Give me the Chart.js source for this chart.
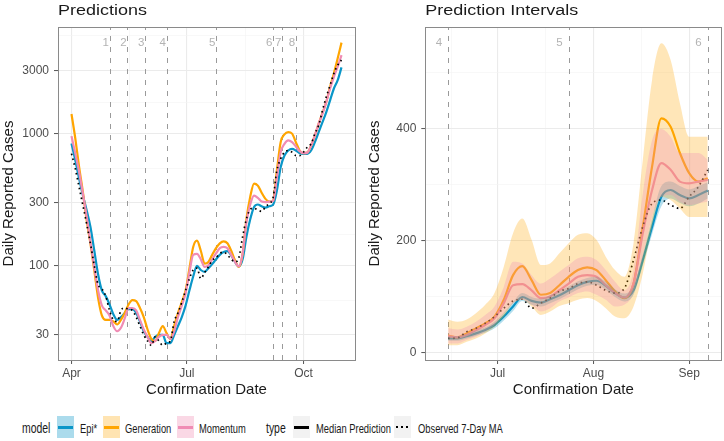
<!DOCTYPE html>
<html>
<head>
<meta charset="utf-8">
<script src="https://cdn.jsdelivr.net/npm/chart.js@4.4.1/dist/chart.umd.min.js"></script>
<style>
  html, body { margin: 0; padding: 0; background: #fff; }
  body { width: 724px; height: 441px; position: relative; overflow: hidden;
         font-family: "Liberation Sans", Arial, sans-serif; }
  canvas { position: absolute; top: 0; }
  #left  { left: 0; }
  #right { left: 362px; }
  .lt  { position: absolute; top: 428px; white-space: nowrap; color: #1a1a1a;
         transform-origin: 0 50%; transform: translateY(-50%) scaleX(0.72); }
  .lt.head { font-size: 14.5px; }
  .lt.lab  { font-size: 13px; }
  .key { position: absolute; top: 416px; width: 17px; height: 22px; }
  .key i { position: absolute; left: 1px; right: 1px; top: 10px; height: 2.5px; }
  .key i.dots { background: repeating-linear-gradient(90deg, #000 0 1.8px, transparent 1.8px 5px); height: 2px; left: 2px; }
</style>
</head>
<body>
<canvas id="left" width="362" height="400"></canvas>
<canvas id="right" width="362" height="400"></canvas>

<div class="lt head" style="left:21.5px">model</div>
<div class="key" style="left:56.5px;background:rgba(10,150,200,0.34)"><i style="background:#0a96c8"></i></div>
<div class="lt lab" style="left:80px">Epi*</div>
<div class="key" style="left:103px;background:rgba(255,165,0,0.3)"><i style="background:#ffa500"></i></div>
<div class="lt lab" style="left:125px">Generation</div>
<div class="key" style="left:177px;background:rgba(240,140,180,0.34)"><i style="background:#f08cb4"></i></div>
<div class="lt lab" style="left:199px">Momentum</div>
<div class="lt head" style="left:266px">type</div>
<div class="key" style="left:293px;background:#f2f2f2"><i style="background:#000"></i></div>
<div class="lt lab" style="left:316px">Median Prediction</div>
<div class="key" style="left:394px;background:#f2f2f2"><i class="dots"></i></div>
<div class="lt lab" style="left:418px">Observed 7-Day MA</div>

<script>
'use strict';

// ── Data: one sample every 3 days, day 0 = 1 April ──────────
const DAY_STEP = 3;

const EPI_MED = [841, 628, 457, 341, 262, 196, 130, 86, 65, 59, 51, 43, 39, 41, 44, 47, 47, 44, 38, 32, 29, 27, 29, 30, 30,
  26, 26, 30, 35, 41, 50, 65, 83, 100, 93, 90, 96, 103, 112, 121, 127, 129, 120, 107, 99, 112, 166, 225, 279, 291, 282, 276, 282, 290,
  370, 556, 682, 745, 767, 745, 711, 703, 703, 745, 861, 1026, 1222, 1456, 1786, 2193, 2535, 3165];
const GEN_MED = [1406, 918, 560, 361, 220, 146, 92, 57, 42, 39, 39, 38, 36, 39, 44, 51, 55, 54, 48, 41, 33, 28, 27, 31, 35,
  31, 28, 35, 44, 53, 65, 95, 139, 155, 130, 104, 107, 121, 136, 148, 153, 148, 130, 110, 98, 124, 225, 333, 419, 404, 357, 321, 306, 312,
  525, 861, 986, 1026, 1000, 861, 745, 711, 718, 813, 969, 1189, 1432, 1738, 2260, 2852, 3707, 4875];
const MOM_MED = [957, 706, 513, 351, 233, 150, 97, 65, 50, 46, 42, 35, 32, 34, 40, 48, 48, 46, 39, 33, 29, 26, 27, 29, 30,
  30, 28, 32, 41, 50, 62, 89, 121, 123, 112, 98, 101, 112, 124, 136, 139, 136, 121, 107, 99, 124, 214, 291, 339, 327, 306, 303, 306, 309,
  467, 723, 837, 888, 861, 798, 736, 711, 718, 813, 969, 1189, 1414, 1738, 2193, 2690, 3206, 3926];
const OBS_MA = [706, 543, 394, 286, 207, 146, 100, 72, 67, 59, 46, 39, 38, 46, 48, 47, 46, 41, 35, 30, 27, 25, 29, 27, 25,
  26, 27, 38, 44, 53, 65, 80, 93, 96, 80, 89, 98, 110, 115, 124, 127, 121, 112, 107, 115, 166, 226, 267, 273, 264, 258, 279, 297, 327,
  525, 644, 723, 745, 723, 682, 682, 723, 789, 837, 1000, 1154, 1500, 1897, 2321, 2852, 3296, 3597];

// interval window (samples 25..53 = 15 Jun .. 7 Sep)
const WIN_START = 25, WIN_END = 54;
const EPI_LO = [22, 22, 26, 31, 36, 44, 58, 75, 93, 86, 83, 89, 96, 105, 114, 120, 122, 113, 100, 92, 104, 156, 212, 262, 276, 268, 262, 267, 276];
const EPI_HI = [30, 30, 34, 40, 46, 56, 72, 91, 107, 100, 97, 103, 110, 119, 128, 134, 136, 127, 114, 106, 120, 176, 240, 298, 306, 298, 292, 298, 305];
const GEN_LO = [14, 14, 20, 26, 35, 47, 65, 89, 95, 83, 68, 74, 84, 89, 95, 98, 93, 80, 65, 62, 83, 142, 226, 279, 273, 258, 243, 243, 243];
const GEN_HI = [60, 56, 60, 71, 86, 107, 154, 214, 240, 202, 157, 160, 178, 196, 211, 214, 202, 172, 148, 136, 196, 345, 488, 553, 523, 446, 386, 386, 386];
const MOM_LO = [17, 17, 23, 29, 38, 50, 71, 89, 95, 86, 74, 80, 92, 99, 107, 110, 104, 95, 83, 86, 107, 172, 243, 279, 282, 270, 264, 267, 270];
const MOM_HI = [44, 42, 47, 56, 68, 83, 118, 163, 160, 139, 124, 133, 145, 157, 169, 172, 166, 148, 127, 112, 148, 285, 380, 400, 386, 357, 357, 357, 345];

// breakpoints (day offsets) and their labels
const BREAK_DAYS   = [30, 44, 58, 75, 114, 159, 166, 177];
const BREAK_LABELS = ['1', '2', '3', '4', '5', '6', '7', '8'];
const BREAK_LABEL_SHIFT = 3;

// axis ticks
const LEFT_X_TICKS  = [0, 91, 183];
const LEFT_X_LABELS = ['Apr', 'Jul', 'Oct'];
const LEFT_X_MINOR  = [45.5, 137];
const LEFT_Y_TICKS  = [30, 100, 300, 1000, 3000];
const LEFT_Y_LABELS = ['30', '100', '300', '1000', '3000'];
const LEFT_Y_MINOR  = [54.77, 173.2, 547.7, 1732, 5477];

const RIGHT_X_TICKS  = [91, 122, 153];
const RIGHT_X_LABELS = ['Jul', 'Aug', 'Sep'];
const RIGHT_X_MINOR  = [76, 106.5, 137.5];
const RIGHT_Y_TICKS  = [0, 200, 400];
const RIGHT_Y_LABELS = ['0', '200', '400'];
const RIGHT_Y_MINOR  = [100, 300, 500];

// ── Styling ───────────────────────────────────
const FONT = '"Liberation Sans", Arial, sans-serif';
const EPI_COL = '#0a96c8', GEN_COL = '#ffa500', MOM_COL = '#f08cb4';

Chart.defaults.font.family = FONT;
Chart.defaults.animation = false;

const pts = (vals, start = 0) => vals.map((v, i) => ({ x: (start + i) * DAY_STEP, y: v }));

function axis(o) {
  const all = o.major.concat(o.minor).sort((a, b) => a - b);
  const isMajor = c => c.tick && o.major.includes(c.tick.value);
  return {
    type: o.type || 'linear',
    min: o.min, max: o.max,
    afterBuildTicks: s => { s.ticks = all.map(v => ({ value: v })); },
    afterFit: s => {
      if (o.width !== undefined) s.width = o.width;
      if (o.height !== undefined) s.height = o.height;
    },
    grid: {
      color: c => isMajor(c) ? '#ebebeb' : '#f4f4f4',
      lineWidth: c => isMajor(c) ? 1.1 : 0.6,
      tickColor: c => isMajor(c) ? '#555' : 'rgba(0,0,0,0)',
      tickLength: 4, tickWidth: 1, drawTicks: true
    },
    border: { display: false },
    ticks: {
      autoSkip: false, maxRotation: 0, minRotation: 0, padding: o.pad,
      color: '#4d4d4d', font: { size: 12 },
      callback: v => { const i = o.major.indexOf(v); return i < 0 ? '' : o.labels[i]; }
    },
    title: { display: true, text: o.title, color: '#1a1a1a', font: { size: 15 }, padding: o.titlePad }
  };
}

// ── Panel decoration: breakpoints, border, title ──
const panelDecor = {
  id: 'panelDecor',
  beforeDatasetsDraw(chart) {
    const { ctx, chartArea: a, scales: { x } } = chart;
    BREAK_DAYS.forEach((d, i) => {
      if (d < x.min || d > x.max) return;
      const px = Math.round(x.getPixelForValue(d)) + 0.5;
      ctx.save();
      ctx.strokeStyle = '#9a9a9a';
      ctx.lineWidth = 1;
      ctx.setLineDash([5, 6]);
      ctx.beginPath();
      ctx.moveTo(px, a.bottom);
      ctx.lineTo(px, a.top);
      ctx.stroke();
      ctx.fillStyle = '#b3b3b3';
      ctx.font = '11.5px ' + FONT;
      ctx.textAlign = 'center';
      ctx.textBaseline = 'middle';
      ctx.fillText(BREAK_LABELS[i], x.getPixelForValue(d - BREAK_LABEL_SHIFT), 43);
      ctx.restore();
    });
  },
  afterDraw(chart, args, opts) {
    const { ctx, chartArea: a } = chart;
    ctx.save();
    ctx.strokeStyle = '#8a8a8a';
    ctx.lineWidth = 1;
    const l = Math.round(a.left) + 0.5, t = Math.round(a.top) + 0.5;
    ctx.strokeRect(l, t, Math.round(a.right) - Math.round(a.left), Math.round(a.bottom) - Math.round(a.top));
    ctx.fillStyle = '#1a1a1a';
    ctx.font = '15.5px ' + FONT;
    ctx.textBaseline = 'alphabetic';
    ctx.translate(a.left, 15);
    ctx.scale(1.16, 1);
    ctx.fillText(opts.title, 0, 0);
    ctx.restore();
  }
};

function lineSet(label, vals, start, color, order, dotted) {
  return {
    label, data: pts(vals, start), order,
    borderColor: color, borderWidth: dotted ? 1.7 : 2.2,
    borderDash: dotted ? [1.6, 3.4] : [],
    pointRadius: 0, fill: false, cubicInterpolationMode: 'monotone'
  };
}
function bandSet(label, vals, color, order, fillTo) {
  return {
    label, data: pts(vals, WIN_START), order,
    borderWidth: 0, borderColor: 'rgba(0,0,0,0)', backgroundColor: color,
    pointRadius: 0, fill: fillTo, cubicInterpolationMode: 'monotone'
  };
}

// ── Left panel: predictions, log scale ────────
new Chart(document.getElementById('left'), {
  type: 'line',
  data: {
    datasets: [
      lineSet('Observed 7-Day MA', OBS_MA, 0, '#000', 0, true),
      lineSet('Momentum', MOM_MED, 0, MOM_COL, 1),
      lineSet('Generation', GEN_MED, 0, GEN_COL, 2),
      lineSet('Epi*', EPI_MED, 0, EPI_COL, 3)
    ]
  },
  options: {
    responsive: false,
    layout: { padding: { top: 27, right: 7, bottom: 0, left: 0 } },
    plugins: { legend: { display: false }, tooltip: { enabled: false }, panelDecor: { title: 'Predictions' } },
    scales: {
      x: axis({ min: -10.65, max: 223.65, major: LEFT_X_TICKS, labels: LEFT_X_LABELS, minor: LEFT_X_MINOR,
                height: 40, pad: 2, title: 'Confirmation Date', titlePad: { top: 0, bottom: 1 } }),
      y: axis({ type: 'logarithmic', min: 19.4, max: 6400, major: LEFT_Y_TICKS, labels: LEFT_Y_LABELS, minor: LEFT_Y_MINOR,
                width: 58, pad: 5, title: 'Daily Reported Cases', titlePad: { top: 0, bottom: 0 } })
    }
  },
  plugins: [panelDecor]
});

// ── Right panel: prediction intervals, linear ─
const win = arr => arr.slice(WIN_START, WIN_END);
new Chart(document.getElementById('right'), {
  type: 'line',
  data: {
    datasets: [
      bandSet('Momentum hi', MOM_HI, 'rgba(240,140,180,0.3)', 0, '+1'),
      bandSet('Momentum lo', MOM_LO, 'rgba(0,0,0,0)', 0, false),
      bandSet('Generation hi', GEN_HI, 'rgba(255,165,0,0.28)', 1, '+1'),
      bandSet('Generation lo', GEN_LO, 'rgba(0,0,0,0)', 1, false),
      bandSet('Epi hi', EPI_HI, 'rgba(10,150,200,0.3)', 2, '+1'),
      bandSet('Epi lo', EPI_LO, 'rgba(0,0,0,0)', 2, false),
      lineSet('Observed 7-Day MA', win(OBS_MA), WIN_START, '#000', 3, true),
      lineSet('Momentum', win(MOM_MED), WIN_START, MOM_COL, 4),
      lineSet('Generation', win(GEN_MED), WIN_START, GEN_COL, 5),
      lineSet('Epi*', win(EPI_MED), WIN_START, EPI_COL, 6)
    ]
  },
  options: {
    responsive: false,
    layout: { padding: { top: 27, right: 2.7, bottom: 0, left: 0 } },
    plugins: { legend: { display: false }, tooltip: { enabled: false }, panelDecor: { title: 'Prediction Intervals' } },
    scales: {
      x: axis({ min: 67.6, max: 163.4, major: RIGHT_X_TICKS, labels: RIGHT_X_LABELS, minor: RIGHT_X_MINOR,
                height: 40, pad: 2, title: 'Confirmation Date', titlePad: { top: 0, bottom: 1 } }),
      y: axis({ min: -12.5, max: 582, major: RIGHT_Y_TICKS, labels: RIGHT_Y_LABELS, minor: RIGHT_Y_MINOR,
                width: 63.3, pad: 5, title: 'Daily Reported Cases', titlePad: { top: 4, bottom: 0 } })
    }
  },
  plugins: [panelDecor]
});
</script>
</body>
</html>
